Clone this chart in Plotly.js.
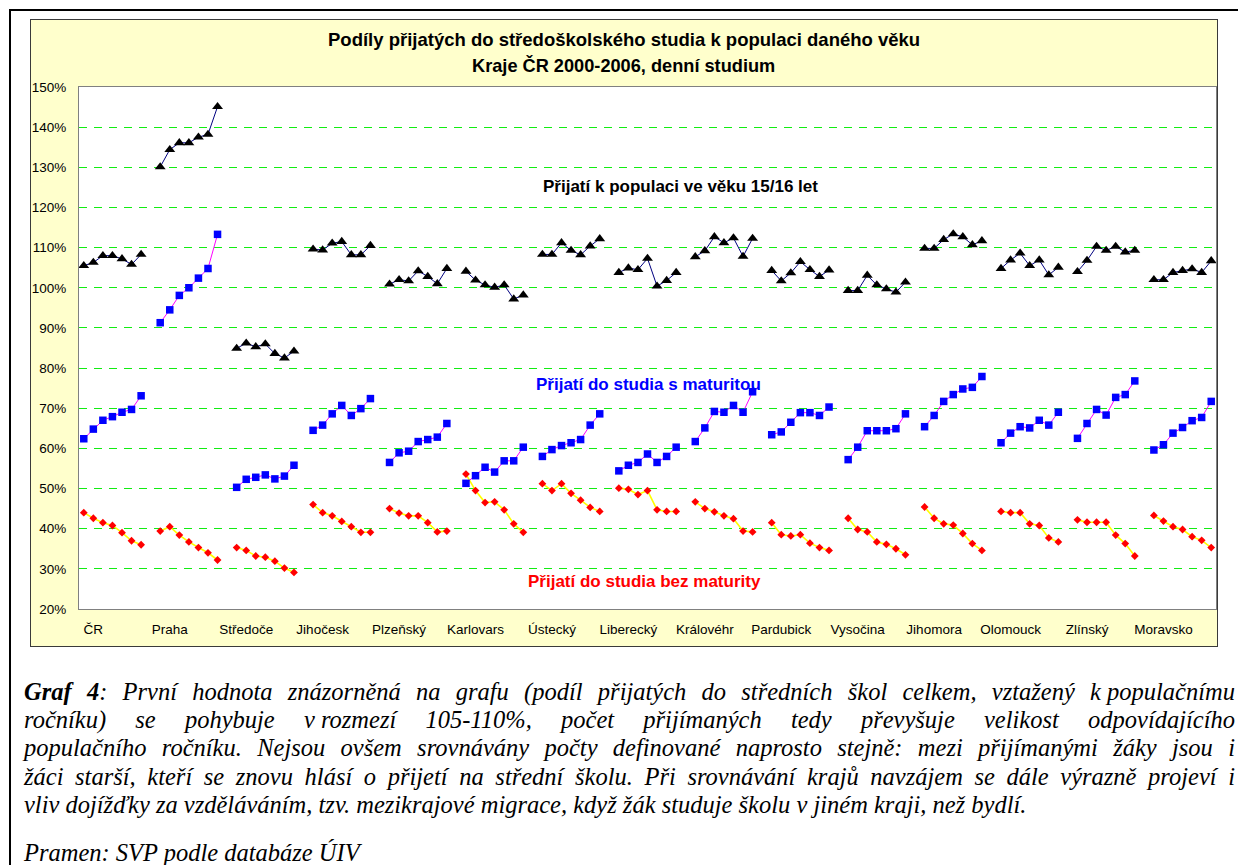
<!DOCTYPE html>
<html lang="cs">
<head>
<meta charset="utf-8">
<title>Podíly přijatých do středoškolského studia</title>
<script src="https://cdn.plot.ly/plotly-3.0.1.min.js"></script>
<style>
  html, body { margin: 0; padding: 0; background: #ffffff; }
  body { width: 1238px; height: 865px; position: relative; overflow: hidden; }
  #frame { position: absolute; left: 9px; top: 9px; width: 1240px; height: 900px;
           border-top: 2px solid #000; border-left: 2px solid #000; }
  #chartbox { position: absolute; left: 30px; top: 19px; width: 1186px; height: 626px;
              border: 1px solid #3a3a3a; background: #ffffcc; }
  #chart { width: 1186px; height: 626px; }
  #caption { position: absolute; left: 24px; top: 678px; width: 1211px;
             font-family: "Liberation Serif", "Times New Roman", serif; font-style: italic;
             font-size: 24.5px; line-height: 28.2px; color: #000; }
  #caption .j { text-align: justify; text-align-last: justify; white-space: nowrap; }
  #caption .l { text-align: left; white-space: nowrap; }
  #caption .nb { display: inline-block; }
  #caption .src { margin-top: 20px; }
</style>
</head>
<body>
<div id="frame"></div>
<div id="chartbox"><div id="chart"></div></div>
<div id="caption">
  <div class="j"><b>Graf 4</b>: První hodnota znázorněná na grafu (podíl přijatých do středních škol celkem, vztažený <span class="nb">k populačnímu</span></div>
  <div class="j">ročníku) se pohybuje <span class="nb">v rozmezí</span> 105-110%, počet přijímaných tedy převyšuje velikost odpovídajícího</div>
  <div class="j">populačního ročníku. Nejsou ovšem srovnávány počty definované naprosto stejně: mezi přijímanými žáky jsou i</div>
  <div class="j">žáci starší, kteří se znovu hlásí o přijetí na střední školu. Při srovnávání krajů navzájem se dále výrazně projeví i</div>
  <div class="l">vliv dojížďky za vzděláváním, tzv. mezikrajové migrace, když žák studuje školu <span class="nb">v jiném</span> kraji, než bydlí.</div>
  <div class="l src">Pramen: SVP podle databáze ÚIV</div>
</div>
<script>
// Kraje (zkrácené názvy tak, jak jsou na ose)
const regions = ['ČR', 'Praha', 'Středoče', 'Jihočesk', 'Plzeňský', 'Karlovars', 'Ústecký',
                 'Liberecký', 'Královéhr', 'Pardubick', 'Vysočina', 'Jihomora', 'Olomouck',
                 'Zlínský', 'Moravsko'];
const years = [2000, 2001, 2002, 2003, 2004, 2005, 2006];

// Přijatí celkem k populaci ve věku 15/16 let (%)
const prijatiCelkem = [
  [105.5, 106.3, 108.0, 108.0, 107.2, 105.8, 108.3],
  [130.1, 134.4, 136.1, 136.1, 137.5, 138.2, 145.1],
  [84.9, 86.2, 85.3, 86.0, 83.6, 82.5, 84.2],
  [109.6, 109.4, 111.1, 111.5, 108.2, 108.2, 110.5],
  [100.9, 102.0, 101.7, 104.2, 102.8, 101.0, 104.8],
  [104.1, 101.9, 100.7, 100.1, 100.7, 97.2, 98.2],
  [108.3, 108.3, 111.2, 109.3, 108.2, 110.4, 112.2],
  [103.8, 104.9, 104.5, 107.3, 100.4, 101.8, 103.8],
  [107.7, 109.2, 112.7, 111.2, 112.4, 107.8, 112.3],
  [104.3, 101.7, 103.7, 106.5, 104.5, 102.8, 104.4],
  [99.3, 99.3, 103.1, 100.7, 99.7, 98.9, 101.4],
  [109.8, 109.8, 112.0, 113.4, 112.7, 110.7, 111.7],
  [104.8, 106.9, 108.6, 105.5, 106.9, 103.2, 105.1],
  [104.0, 106.8, 110.3, 109.3, 110.3, 108.9, 109.3],
  [102.0, 102.0, 103.8, 104.3, 104.7, 103.8, 106.7]
];

// Přijatí do studia s maturitou (%)
const sMaturitou = [
  [62.4, 64.8, 67.0, 67.9, 69.0, 69.7, 73.1],
  [91.3, 94.5, 98.1, 100.0, 102.4, 104.8, 113.3],
  [50.3, 52.3, 52.8, 53.4, 52.4, 53.1, 55.8],
  [64.5, 65.8, 68.6, 70.7, 68.2, 69.9, 72.4],
  [56.5, 58.9, 59.3, 61.7, 62.2, 62.8, 66.2],
  [51.3, 53.2, 55.3, 54.1, 56.9, 56.9, 60.3],
  [58.0, 59.7, 60.7, 61.4, 62.2, 65.8, 68.6],
  [54.4, 55.8, 56.5, 58.6, 56.5, 58.0, 60.3],
  [61.7, 65.1, 69.2, 69.0, 70.7, 69.0, 74.1],
  [63.4, 64.1, 66.5, 68.9, 68.9, 68.2, 70.3],
  [57.2, 60.3, 64.4, 64.4, 64.4, 64.9, 68.6],
  [65.4, 68.2, 71.7, 73.4, 74.8, 75.2, 77.9],
  [61.4, 63.8, 65.4, 65.1, 67.0, 65.8, 69.0],
  [62.5, 66.2, 69.7, 68.3, 72.7, 73.4, 76.8],
  [59.6, 60.9, 63.8, 65.2, 66.9, 67.7, 71.7]
];

// Přijatí do studia bez maturity (%)
const bezMaturity = [
  [44.0, 42.6, 41.5, 40.8, 39.0, 37.0, 36.0],
  [39.4, 40.5, 38.4, 36.7, 35.3, 34.0, 32.2],
  [35.3, 34.6, 33.2, 32.9, 31.9, 30.2, 29.1],
  [46.0, 44.0, 43.2, 41.8, 40.5, 39.1, 39.1],
  [45.0, 43.9, 43.2, 43.2, 41.5, 39.2, 39.4],
  [53.6, 49.5, 46.5, 46.7, 44.7, 41.2, 39.1],
  [51.2, 49.5, 51.2, 48.8, 47.1, 45.3, 44.3],
  [50.1, 49.8, 48.5, 49.5, 44.7, 44.3, 44.3],
  [46.7, 45.0, 44.2, 43.2, 42.5, 39.4, 39.2],
  [41.5, 38.5, 38.2, 38.5, 36.4, 35.3, 34.6],
  [42.6, 39.8, 39.2, 36.7, 36.1, 35.0, 33.5],
  [45.4, 42.6, 41.2, 40.9, 38.8, 36.3, 34.6],
  [44.3, 44.0, 44.0, 41.2, 40.8, 37.7, 36.7],
  [42.2, 41.6, 41.6, 41.6, 38.4, 36.3, 33.2],
  [43.3, 41.9, 40.5, 39.8, 38.0, 37.1, 35.3]
];

// Each region occupies one block of category slots (one per year) plus one empty slot.
const slotsPerRegion = years.length + 1;

function series(values) {
  const x = [], y = [], text = [];
  values.forEach((row, r) => {
    row.forEach((v, j) => {
      x.push(r * slotsPerRegion + j);
      y.push(v);
      text.push(regions[r] + ' ' + years[j]);
    });
    if (r < values.length - 1) { x.push(r * slotsPerRegion + years.length); y.push(null); text.push(''); }
  });
  return { x, y, text };
}

const font = 'Liberation Sans, Arial, sans-serif';

const sCelkem = series(prijatiCelkem);
const sMat = series(sMaturitou);
const sBez = series(bezMaturity);

const traces = [
  { type: 'scatter', mode: 'lines+markers', name: 'Přijatí do studia bez maturity',
    x: sBez.x, y: sBez.y, text: sBez.text, connectgaps: false, cliponaxis: false,
    line: { color: '#ffff00', width: 1.6 },
    marker: { symbol: 'diamond', size: 6, color: '#ff0000', line: { width: 0 } } },
  { type: 'scatter', mode: 'lines+markers', name: 'Přijatí do studia s maturitou',
    x: sMat.x, y: sMat.y, text: sMat.text, connectgaps: false, cliponaxis: false,
    line: { color: '#ff00ff', width: 1 },
    marker: { symbol: 'square', size: 7.5, color: '#0000ff', line: { width: 0 } } },
  { type: 'scatter', mode: 'lines+markers', name: 'Přijatí k populaci ve věku 15/16 let',
    x: sCelkem.x, y: sCelkem.y, text: sCelkem.text, connectgaps: false, cliponaxis: false,
    line: { color: '#000080', width: 1 },
    marker: { symbol: 'triangle-up', size: 9.5, color: '#000000', line: { width: 0 } } }
];

const nSlots = regions.length * slotsPerRegion - 1;

// Plot area in page pixels: x 79..1216, y 87..609
const plotLeft = 79, plotWidth = 1137, plotBottom = 609, plotHeight = 522;
const px = (x) => (x - plotLeft) / plotWidth;
const py = (y) => (plotBottom - y) / plotHeight;

const layout = {
  width: 1186, height: 626,
  margin: { l: 48, r: 1, t: 67, b: 37, pad: 0 },
  paper_bgcolor: '#ffffcc', plot_bgcolor: '#ffffff',
  showlegend: false,
  font: { family: font, size: 13.5, color: '#000000' },
  xaxis: {
    range: [-0.5, nSlots - 0.5], fixedrange: true,
    tickmode: 'array',
    tickvals: regions.map((_, r) => r * slotsPerRegion + 1),
    ticktext: regions,
    ticks: '', showgrid: false, zeroline: false,
    showline: true, linecolor: '#808080', linewidth: 1, mirror: true,
    ticklabelstandoff: 8,
    tickfont: { family: font, size: 13.5, color: '#000000' }
  },
  yaxis: {
    range: [20, 150], dtick: 10, tick0: 20, ticksuffix: '%', fixedrange: true,
    ticks: '', showgrid: true, gridcolor: '#11ee11', gridwidth: 1, griddash: '8px,7px',
    zeroline: false, showline: true, linecolor: '#808080', linewidth: 1, mirror: true,
    ticklabelstandoff: 9,
    tickfont: { family: font, size: 13.5, color: '#000000' }
  },
  annotations: [
    { xref: 'paper', yref: 'paper', x: px(623.5), y: py(39.3), yanchor: 'middle',
      text: '<b>Podíly přijatých do středoškolského studia k populaci daného věku</b>',
      showarrow: false, font: { family: font, size: 18.5, color: '#000000' } },
    { xref: 'paper', yref: 'paper', x: px(623.5), y: py(65.7), yanchor: 'middle',
      text: '<b>Kraje ČR 2000-2006, denní studium</b>',
      showarrow: false, font: { family: font, size: 18.2, color: '#000000' } },
    { xref: 'paper', yref: 'paper', x: px(680), y: py(187), yanchor: 'middle',
      text: '<b>Přijatí k populaci ve věku 15/16 let</b>',
      showarrow: false, font: { family: font, size: 17, color: '#000000' } },
    { xref: 'paper', yref: 'paper', x: px(648.5), y: py(385), yanchor: 'middle',
      text: '<b>Přijatí do studia s maturitou</b>',
      showarrow: false, font: { family: font, size: 17, color: '#0000ff' } },
    { xref: 'paper', yref: 'paper', x: px(644), y: py(581), yanchor: 'middle',
      text: '<b>Přijatí do studia bez maturity</b>',
      showarrow: false, font: { family: font, size: 17, color: '#ff0000' } }
  ]
};

Plotly.newPlot('chart', traces, layout, { staticPlot: true, displayModeBar: false });
</script>
</body>
</html>
